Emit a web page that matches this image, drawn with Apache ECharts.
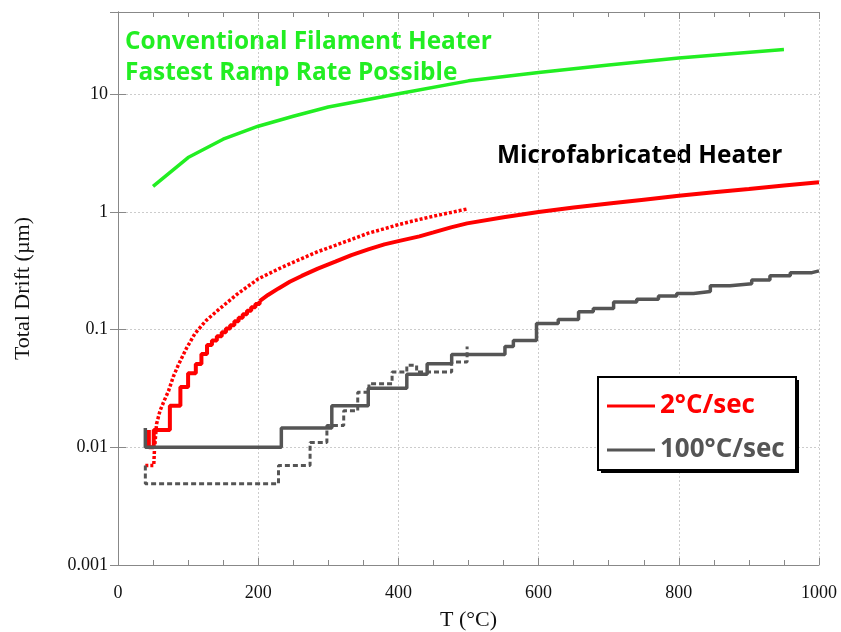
<!DOCTYPE html>
<html>
<head>
<meta charset="utf-8">
<script src="https://cdn.jsdelivr.net/npm/echarts@6/dist/echarts.min.js"></script>
<style>html,body{margin:0;padding:0;background:#fff}#c{width:841px;height:632px}</style>
</head>
<body>
<div id="c"></div>
<script>
// ---- Data (T in °C, total drift in µm) ----
const conventional = [[50,1.65],[100,2.9],[150,4.15],[200,5.35],[250,6.5],[300,7.8],[400,10.1],[500,13],[600,15.3],[700,17.7],[800,20.3],[950,24]];
// 2°C/sec, solid: coarse steps at low T, then a near-continuous curve
const micro2Steps = [[44,0.014],[44,0.01],[51,0.014],[74,0.0226],[89,0.0325],[100,0.0426],[111,0.051],[119,0.062],[127,0.074],[134,0.081],[141,0.088],[148,0.095],[154,0.102],[160,0.109],[166,0.118],[172,0.126],[178,0.135],[184,0.145],[190,0.155],[196,0.165],[202,0.175]];
const micro2Curve = [[202,0.175],[214,0.197],[229,0.224],[245,0.255],[262,0.286],[285,0.33],[310,0.378],[333,0.43],[357,0.48],[380,0.53],[403,0.57],[430,0.62],[450,0.67],[475,0.74],[498,0.80],[550,0.9],[600,1.0],[650,1.09],[707,1.19],[750,1.27],[800,1.37],[850,1.47],[900,1.57],[950,1.68],[1000,1.79]];
const micro2Dotted = [[39,0.007],[51,0.007],[52,0.0095],[55,0.0158],[60,0.0205],[66,0.025],[72,0.030],[79,0.04],[86,0.05],[98,0.07],[110,0.093],[126,0.12],[143,0.147],[170,0.2],[200,0.27],[230,0.33],[257,0.39],[285,0.46],[310,0.52],[335,0.59],[357,0.66],[380,0.72],[400,0.78],[425,0.85],[450,0.92],[475,0.99],[498,1.06]];
const micro100Solid = [[39,0.0146],[39,0.01],[233,0.0146],[305,0.0226],[357,0.0318],[412,0.0417],[441,0.0514],[476,0.0616],[552,0.072],[564,0.081],[597,0.113],[628,0.122],[657,0.142],[678,0.151],[707,0.172],[740,0.181],[771,0.193],[797,0.203],[821,0.211],[845,0.236],[873,0.245],[904,0.264],[930,0.287],[959,0.305],[990,0.316],[1000,0.316]];
const micro100Dashed = [[39,0.007],[39,0.0049],[229,0.007],[274,0.011],[298,0.0153],[322,0.0205],[342,0.0294],[358,0.0347],[391,0.0436],[412,0.0497],[426,0.0436],[476,0.053],[498,0.072]];
const legendNames = ['2°C/sec','100°C/sec'];
const annotations = ['Conventional Filament Heater','Fastest Ramp Rate Possible','Microfabricated Heater'];

const GREEN='#22ee22', RED='#ff0000', GREY='#555555';
const serif='"Liberation Serif","DejaVu Serif",serif';
const sans='"Open Sans","Noto Sans",sans-serif';

function decadeLabel(v){
  const l=Math.log10(v), e=Math.round(l);
  if(Math.abs(l-e)>1e-6) return '';
  return e>=0 ? String(Math.pow(10,e)) : Math.pow(10,e).toFixed(-e);
}

const chart = echarts.init(document.getElementById('c'), null, {renderer:'canvas'});
const axisLine={show:true,lineStyle:{color:'#888',width:1}};
chart.setOption({
  animation:false,
  backgroundColor:'#fff',
  grid:{left:118,right:22,top:12,bottom:67,containLabel:false,outerBoundsMode:'none'},
  xAxis:[{
    type:'value',min:0,max:1000,interval:200,position:'bottom',
    axisLine:axisLine,
    axisTick:{show:true,inside:true,length:7,lineStyle:{color:'#888'}},
    minorTick:{show:true,splitNumber:4,length:5,lineStyle:{color:'#888'}},
    splitLine:{show:true,lineStyle:{color:'#ccc',type:[2,2],width:1}},
    axisLabel:{fontFamily:serif,fontSize:18,color:'#111',margin:19,formatter:v=>String(v)},
    name:'T (°C)',nameLocation:'middle',nameGap:44,
    nameTextStyle:{fontFamily:serif,fontSize:22,color:'#111'}
  },{
    type:'value',min:0,max:1000,interval:200,position:'top',
    axisLine:axisLine,
    axisTick:{show:true,inside:true,length:7,lineStyle:{color:'#888'}},
    minorTick:{show:true,splitNumber:4,length:5,lineStyle:{color:'#888'}},
    splitLine:{show:false},axisLabel:{show:false}
  }],
  yAxis:[{
    type:'log',logBase:10,min:0.001,max:50,position:'left',
    axisLine:axisLine,
    axisTick:{show:true,inside:true,length:8,lineStyle:{color:'#888'}},
    splitLine:{show:true,lineStyle:{color:'#ccc',type:[2,2],width:1}},
    axisLabel:{fontFamily:serif,fontSize:18,color:'#111',margin:10,formatter:decadeLabel},
    name:'Total Drift (µm)',nameLocation:'middle',nameGap:84,
    nameTextStyle:{fontFamily:serif,fontSize:22,color:'#111'}
  },{
    type:'log',logBase:10,min:0.001,max:50,position:'right',
    axisLine:axisLine,
    axisTick:{show:true,inside:true,length:8,lineStyle:{color:'#888'}},
    splitLine:{show:false},axisLabel:{show:false}
  }],
  legend:{
    show:true,orient:'vertical',left:597,top:376,z:10,
    padding:[17,9,13,10],itemGap:18,
    itemWidth:48,itemHeight:3,icon:'rect',
    data:[
      {name:legendNames[0],textStyle:{color:RED}},
      {name:legendNames[1],textStyle:{color:GREY}}
    ],
    textStyle:{fontFamily:sans,fontWeight:'bold',fontSize:26},
    selectedMode:false
  },
  graphic:[
    {type:'rect',z:5,left:601,top:380,shape:{width:198,height:93},style:{fill:'#000'}},
    {type:'rect',z:6,left:597,top:376,shape:{width:198,height:93},
     style:{fill:'#fff',stroke:'#000',lineWidth:2}},
    {type:'text',left:125,top:30,style:{text:annotations[0],fill:GREEN,font:'bold 24.4px '+sans}},
    {type:'text',left:125,top:61,style:{text:annotations[1],fill:GREEN,font:'bold 24.4px '+sans}},
    {type:'text',left:497,top:144,style:{text:annotations[2],fill:'#000',font:'bold 24.4px '+sans}}
  ],
  series:[
    {name:'conventional',type:'line',data:conventional,showSymbol:false,color:GREEN,lineStyle:{width:3.5,color:GREEN}},
    {name:legendNames[0],type:'line',data:micro2Steps,step:'end',showSymbol:false,color:RED,lineStyle:{width:4,color:RED}},
    {name:legendNames[0],type:'line',data:micro2Curve,showSymbol:false,color:RED,lineStyle:{width:4,color:RED}},
    {name:'2°C/sec run 2',type:'line',data:micro2Dotted,showSymbol:false,color:RED,lineStyle:{width:3.5,color:RED,type:[3,2]}},
    {name:legendNames[1],type:'line',data:micro100Solid,step:'end',showSymbol:false,color:GREY,lineStyle:{width:3.5,color:GREY}},
    {name:'100°C/sec run 2',type:'line',data:micro100Dashed,step:'end',showSymbol:false,color:GREY,lineStyle:{width:3,color:GREY,type:[5,3]}}
  ]
});
</script>
</body>
</html>
